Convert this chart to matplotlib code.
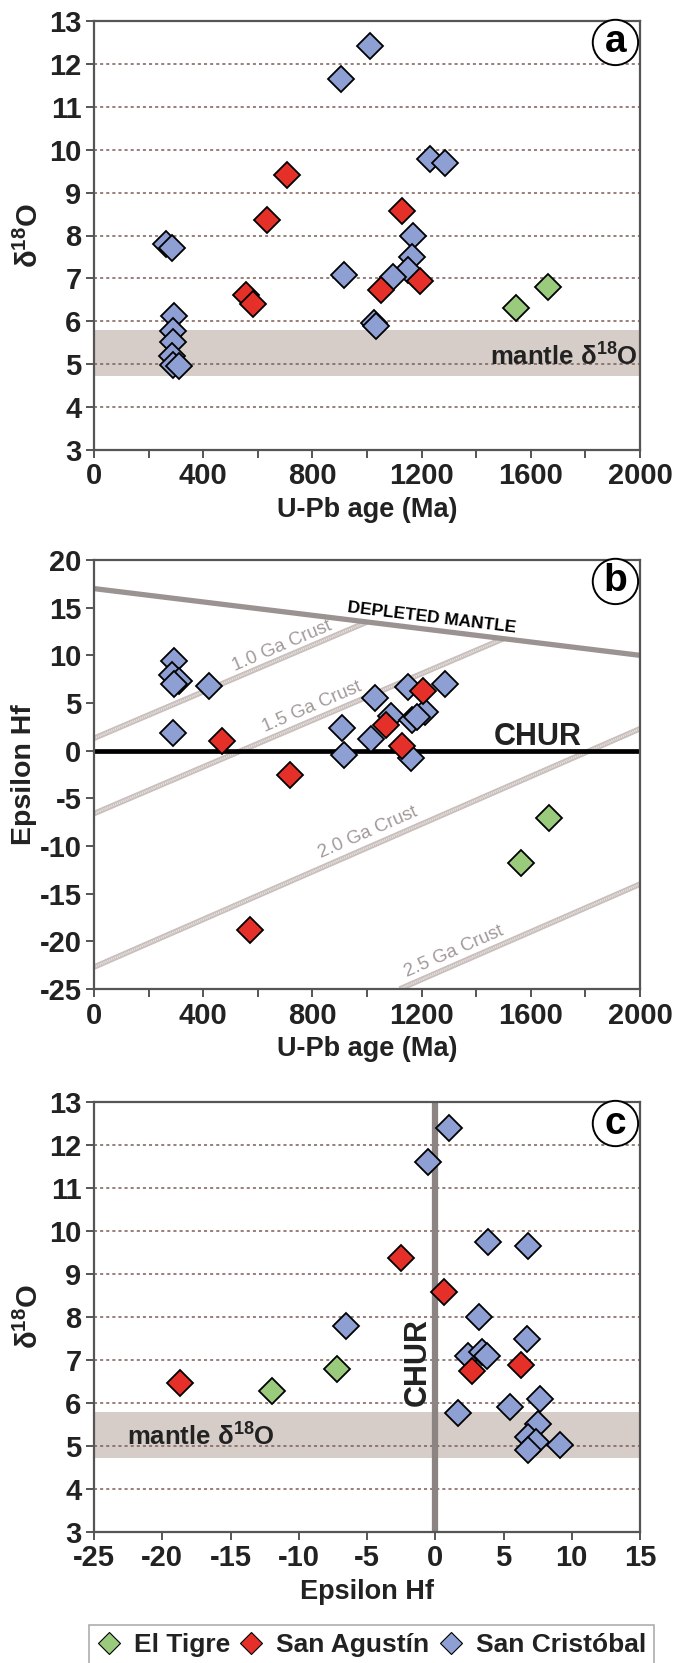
import matplotlib
matplotlib.use('Agg')
import matplotlib.pyplot as plt
from matplotlib import font_manager
import numpy as np

plt.rcParams['font.family'] = ['Liberation Sans', 'DejaVu Sans']
plt.rcParams['font.weight'] = 'bold'
plt.rcParams['axes.unicode_minus'] = False
plt.rcParams['mathtext.fontset'] = 'custom'
plt.rcParams['mathtext.rm'] = 'Liberation Sans:bold'
plt.rcParams['mathtext.bf'] = 'Liberation Sans:bold'

# condensed face for tick labels, if it is there
try:
    font_manager.findfont('Liberation Sans Narrow', fallback_to_default=False)
    NARROW = ['Liberation Sans Narrow', 'DejaVu Sans']
except ValueError:
    NARROW = ['Liberation Sans', 'DejaVu Sans']

# ---- data ----
# panel a: U-Pb age (Ma) vs d18O
a_tigre_age = [1547, 1662]
a_tigre_d18o = [6.31, 6.80]
a_agustin_age = [708, 635, 1127, 557, 582, 1053, 1195]
a_agustin_d18o = [9.41, 8.37, 8.56, 6.62, 6.40, 6.72, 6.94]
a_cristobal_age = [1012, 903, 1230, 1285, 265, 286, 1167, 1164, 1150, 915, 1096,
                   1025, 1033, 294, 290, 288, 285, 290, 312]
a_cristobal_d18o = [12.41, 11.65, 9.79, 9.69, 7.80, 7.72, 8.0, 7.5, 7.2, 7.07, 7.03,
                    5.97, 5.90, 6.12, 5.78, 5.52, 5.18, 4.98, 4.96]

# panel b: U-Pb age (Ma) vs epsilon Hf
b_tigre_age = [1667, 1563]
b_tigre_ehf = [-7.1, -11.8]
b_agustin_age = [470, 719, 1206, 1068, 1127, 572]
b_agustin_ehf = [1.0, -2.55, 6.24, 2.67, 0.47, -18.8]
b_cristobal_age = [294, 286, 310, 294, 423, 291, 910, 915, 1028, 1013, 1088,
                   1151, 1164, 1214, 1182, 1162, 1285]
b_cristobal_ehf = [9.38, 7.89, 7.36, 7.0, 6.74, 1.9, 2.42, -0.47, 5.56, 1.27, 3.64,
                   6.67, 3.18, 4.05, 3.54, -0.77, 7.0]

# reference lines in panel b (age, epsilon Hf end points)
dm_age = [0, 2000]
dm_ehf = [17.0, 10.0]
crust_names = ['1.0 Ga Crust', '1.5 Ga Crust', '2.0 Ga Crust', '2.5 Ga Crust']
crust_age = [[0, 1000], [0, 1500], [0, 2000], [1120, 2000]]
crust_ehf = [[1.3, 13.5], [-6.6, 11.75], [-22.7, 2.3], [-25.0, -14.0]]
crust_label_xy = [(690, 11.0), (800, 4.6), (1005, -8.6), (1320, -21.1)]

# panel c: epsilon Hf vs d18O
c_tigre_ehf = [-11.95, -7.23]
c_tigre_d18o = [6.28, 6.79]
c_agustin_ehf = [-18.71, -2.52, 0.63, 2.67, 6.29]
c_agustin_d18o = [6.46, 9.37, 8.57, 6.75, 6.89]
c_cristobal_ehf = [1.04, -0.53, 3.87, 6.82, -6.51, 3.24, 6.70, 2.42, 3.46, 3.77,
                   1.67, 5.44, 7.64, 7.55, 6.82, 7.39, 6.82, 9.12]
c_cristobal_d18o = [12.39, 11.6, 9.75, 9.66, 7.80, 8.0, 7.48, 7.09, 7.18, 7.09,
                    5.77, 5.91, 6.09, 5.52, 5.20, 5.10, 4.91, 5.03]

mantle_band = (4.72, 5.80)

green = '#9acb7c'
red = '#e5302a'
blue = '#8d9fd3'
dark = '#222222'
grid_col = '#7d5c56'
band_col = '#d7cdc8'

W, H = 673, 1663
fig = plt.figure(figsize=(W / 100, H / 100), dpi=100)


def axes_px(left, top, right, bottom):
    return fig.add_axes([left / W, 1 - bottom / H, (right - left) / W, (bottom - top) / H])


ax_a = axes_px(94, 21, 640, 450)
ax_b = axes_px(94, 560, 640, 989)
ax_c = axes_px(94, 1102, 640, 1532)

mk = dict(marker='D', ms=13, mec='black', mew=1.3, ls='none')


def style(ax):
    for s in ax.spines.values():
        s.set_color('#555555')
        s.set_linewidth(1.6)
    ax.tick_params(direction='out', length=6, width=1.4, color='#555555',
                   labelsize=21, labelcolor=dark, pad=3)
    for lab in ax.get_xticklabels() + ax.get_yticklabels():
        lab.set_fontweight('bold')
        lab.set_family(NARROW)


def panel_letter(ax, letter):
    ax.text(0.955, 0.95, letter, transform=ax.transAxes, ha='center', va='center',
            fontsize=28, fontweight='bold', color='black', zorder=10,
            bbox=dict(boxstyle='circle,pad=0.12', fc='white', ec='black', lw=1.4))


# ---------- panel a ----------
ax = ax_a
ax.set_xlim(0, 2000)
ax.set_ylim(3, 13)
ax.axhspan(*mantle_band, color=band_col, lw=0, zorder=0)
for y in range(4, 13):
    ax.axhline(y, color=grid_col, lw=1.1, ls=(0, (2, 2)), zorder=1)
ax.plot(a_cristobal_age, a_cristobal_d18o, mfc=blue, zorder=3, **mk)
ax.plot(a_agustin_age, a_agustin_d18o, mfc=red, zorder=4, **mk)
ax.plot(a_tigre_age, a_tigre_d18o, mfc=green, zorder=4, **mk)
ax.set_xticks(np.arange(0, 2001, 200))
ax.set_xticklabels([str(v) if v % 400 == 0 else '' for v in range(0, 2001, 200)])
ax.set_yticks(range(3, 14))
ax.text(1990, 5.2, 'mantle δ$^{18}$O', ha='right', va='center', fontsize=18.5,
        fontweight='bold', color=dark, zorder=5)
ax.set_xlabel('U-Pb age (Ma)', fontsize=19.5, fontweight='bold', color=dark, labelpad=5)
ax.set_ylabel('δ$^{18}$O', fontsize=21, fontweight='bold', color=dark, labelpad=4)
style(ax)
panel_letter(ax, 'a')

# ---------- panel b ----------
ax = ax_b
ax.set_xlim(0, 2000)
ax.set_ylim(-25, 20)
ax.plot(dm_age, dm_ehf, color='#9b9391', lw=3.8, zorder=2, solid_capstyle='butt')
for xs, ys in zip(crust_age, crust_ehf):
    ax.plot(xs, ys, color='#c9bfbc', lw=4, zorder=1, solid_capstyle='butt')
    ax.plot(xs, ys, color='white', lw=1.5, ls=(0, (0.5, 0.5)), zorder=1, alpha=0.6)
ax.axhline(0, color='black', lw=3.4, zorder=2)


def line_angle(ax, xs, ys):
    p = ax.transData.transform(np.column_stack([xs, ys]))
    return np.degrees(np.arctan2(p[1, 1] - p[0, 1], p[1, 0] - p[0, 0]))


for name, xs, ys, (lx, ly) in zip(crust_names, crust_age, crust_ehf, crust_label_xy):
    ax.text(lx, ly, name, rotation=line_angle(ax, xs, ys), rotation_mode='anchor',
            ha='center', va='center', fontsize=13.5, fontweight='normal', color='#a39a98')
ax.text(1237, 13.9, 'DEPLETED MANTLE', rotation=line_angle(ax, dm_age, dm_ehf),
        rotation_mode='anchor', ha='center', va='center', fontsize=12.5,
        fontweight='bold', color='black')
ax.text(1625, 1.4, 'CHUR', ha='center', va='center', fontsize=22, fontweight='bold',
        family=NARROW, color=dark)

ax.plot(b_cristobal_age, b_cristobal_ehf, mfc=blue, zorder=3, **mk)
ax.plot(b_agustin_age, b_agustin_ehf, mfc=red, zorder=4, **mk)
ax.plot(b_tigre_age, b_tigre_ehf, mfc=green, zorder=4, **mk)
ax.set_xticks(np.arange(0, 2001, 200))
ax.set_xticklabels([str(v) if v % 400 == 0 else '' for v in range(0, 2001, 200)])
ax.set_yticks(range(-25, 21, 5))
ax.set_xlabel('U-Pb age (Ma)', fontsize=19.5, fontweight='bold', color=dark, labelpad=5)
ax.set_ylabel('Epsilon Hf', fontsize=20.5, fontweight='bold', family=NARROW,
              color=dark, labelpad=2)
style(ax)
panel_letter(ax, 'b')

# ---------- panel c ----------
ax = ax_c
ax.set_xlim(-25, 15)
ax.set_ylim(3, 13)
ax.axhspan(*mantle_band, color=band_col, lw=0, zorder=0)
for y in range(4, 13):
    ax.axhline(y, color=grid_col, lw=1.1, ls=(0, (2, 2)), zorder=1)
ax.axvline(0, color='#8c8482', lw=4.5, zorder=2)
ax.text(-1.3, 6.95, 'CHUR', rotation=90, ha='center', va='center', fontsize=22,
        fontweight='bold', family=NARROW, color=dark, zorder=5)
ax.text(-17.2, 5.25, 'mantle δ$^{18}$O', ha='center', va='center', fontsize=18.5,
        fontweight='bold', color=dark, zorder=5)
ax.plot(c_cristobal_ehf, c_cristobal_d18o, mfc=blue, zorder=3, **mk)
ax.plot(c_agustin_ehf, c_agustin_d18o, mfc=red, zorder=4, **mk)
ax.plot(c_tigre_ehf, c_tigre_d18o, mfc=green, zorder=4, **mk)
ax.set_xticks(range(-25, 16, 5))
ax.set_yticks(range(3, 14))
ax.set_xlabel('Epsilon Hf', fontsize=19.5, fontweight='bold', color=dark, labelpad=5)
ax.set_ylabel('δ$^{18}$O', fontsize=21, fontweight='bold', color=dark, labelpad=4)
style(ax)
panel_letter(ax, 'c')

# ---------- legend ----------
leg_mk = dict(mk, ms=11, mew=0.8)
handles = [plt.Line2D([], [], mfc=c, **leg_mk) for c in (green, red, blue)]
leg = fig.legend(handles, ['El Tigre', 'San Agustín', 'San Cristóbal'], ncol=3,
                 loc='lower left', bbox_to_anchor=(89 / W, -2 / H, 565 / W, 49 / H),
                 mode='expand', frameon=True, fancybox=False, fontsize=19,
                 handlelength=0.9, handletextpad=0.5, columnspacing=0.4,
                 borderaxespad=0, borderpad=0.3)
leg.get_frame().set_edgecolor('#999999')
leg.get_frame().set_linewidth(1.2)
for t in leg.get_texts():
    t.set_fontweight('bold')
    t.set_color(dark)

fig.savefig('out.png', dpi=100)
